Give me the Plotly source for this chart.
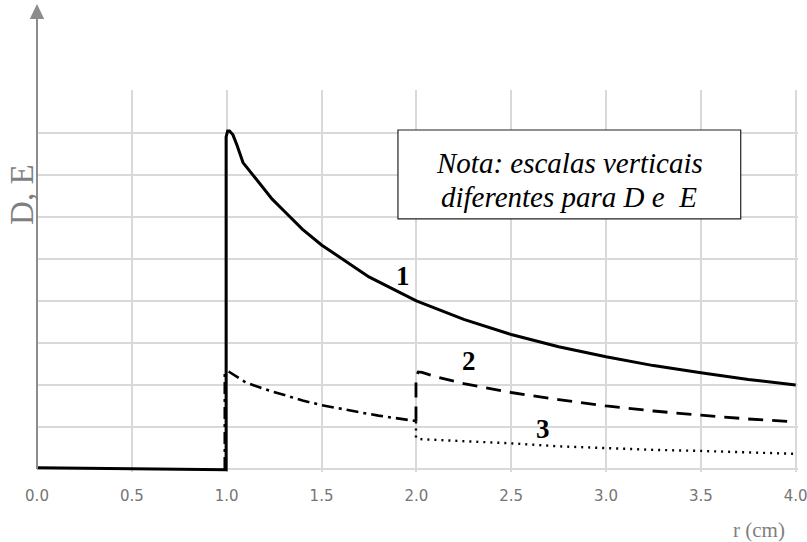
import plotly.graph_objects as go

# ---------------- data ----------------
x_ticks = [0.0, 0.5, 1.0, 1.5, 2.0, 2.5, 3.0, 3.5, 4.0]
x_tick_labels = ["0.0", "0.5", "1.0", "1.5", "2.0", "2.5", "3.0", "3.5", "4.0"]
y_grid = [0, 1, 2, 3, 4, 5, 6, 7, 8, 9]

# curve 1 (solid)
r1 = [0.0, 0.997, 0.997, 1.005, 1.015, 1.033, 1.054, 1.07, 1.086, 1.15, 1.24, 1.3,
      1.4, 1.5, 1.75, 2.0, 2.25, 2.5, 2.75, 3.0, 3.25, 3.5, 3.75, 4.0]
v1 = [0.03, -0.02, 7.9, 8.04, 8.04, 7.95, 7.71, 7.48, 7.29, 6.93, 6.42, 6.15,
      5.7, 5.33, 4.57, 4.0, 3.56, 3.2, 2.91, 2.67, 2.46, 2.29, 2.13, 2.0]

# curve 2, first part (dash-dot, 1 < r < 2)
r2a = [0.99, 0.99, 1.01, 1.05, 1.1, 1.2, 1.3, 1.4, 1.5, 1.6, 1.7, 1.8, 1.9, 2.0]
v2a = [0.0, 2.28, 2.32, 2.2, 2.06, 1.9, 1.76, 1.63, 1.52, 1.43, 1.35, 1.27, 1.2, 1.14]

# curve 2, second part (dashed, r > 2)
r2b = [1.998, 1.998, 2.01, 2.03, 2.1, 2.25, 2.5, 2.75, 3.0, 3.25, 3.5, 3.75, 4.0]
v2b = [1.13, 2.2, 2.31, 2.3, 2.2, 2.03, 1.82, 1.65, 1.5, 1.38, 1.28, 1.19, 1.12]

# curve 3 (dotted, r > 2)
r3 = [1.998, 1.998, 2.02, 2.25, 2.5, 2.75, 3.0, 3.25, 3.5, 3.75, 4.0]
v3 = [1.13, 0.74, 0.71, 0.67, 0.61, 0.54, 0.49, 0.455, 0.43, 0.4, 0.36]

curve_labels = ["1", "2", "3"]
label_pos_r = [1.93, 2.28, 2.665]
label_pos_v = [4.6, 2.56, 0.95]

note_lines = ["Nota: escalas verticais", "diferentes para D e  E"]

# ---------------- figure ----------------
fig = go.Figure()
fig.add_trace(go.Scatter(x=r2a, y=v2a, mode="lines",
                         line=dict(color="black", width=2.6, dash="12px,5px,3px,5px")))
fig.add_trace(go.Scatter(x=r2b, y=v2b, mode="lines",
                         line=dict(color="black", width=2.8, dash="15px,9px")))
fig.add_trace(go.Scatter(x=r3, y=v3, mode="lines",
                         line=dict(color="black", width=2.4, dash="2px,5px")))
fig.add_trace(go.Scatter(x=r1, y=v1, mode="lines",
                         line=dict(color="black", width=3)))

serif = "Liberation Serif, Times New Roman, serif"

for t, xr, yv in zip(curve_labels, label_pos_r, label_pos_v):
    fig.add_annotation(x=xr, y=yv, xref="x", yref="y", text="<b>%s</b>" % t,
                       showarrow=False, font=dict(family=serif, size=27, color="black"))

# note box
fig.add_shape(type="rect", xref="x", yref="y", x0=1.903, x1=3.71, y0=5.95, y1=8.065,
              line=dict(color="#222222", width=1.2), fillcolor="white", layer="above")
fig.add_annotation(x=2.806, y=7.27, xref="x", yref="y", text="<i>%s</i>" % note_lines[0],
                   showarrow=False, font=dict(family=serif, size=29, color="black"))
fig.add_annotation(x=2.806, y=6.48, xref="x", yref="y", text="<i>%s</i>" % note_lines[1],
                   showarrow=False, font=dict(family=serif, size=29, color="black"))

# y axis line with arrow (extends above the plot)
axis_gray = "#8c8c8c"
fig.add_shape(type="line", xref="paper", yref="paper", x0=0, x1=0, y0=0.0078, y1=1.19,
              line=dict(color=axis_gray, width=2))
fig.add_shape(type="path", xref="paper", yref="paper",
              path="M -0.0095 1.1859 L 0.0095 1.1859 L 0 1.2251 Z",
              fillcolor=axis_gray, line=dict(color=axis_gray, width=0))

# axis titles
fig.add_annotation(x=-0.0198, y=0.7277, xref="paper", yref="paper", text="D, E",
                   textangle=-90, showarrow=False, xanchor="center", yanchor="middle",
                   font=dict(family=serif, size=33, color="#7f7f7f"))
fig.add_annotation(x=0.9486, y=-0.1518, xref="paper", yref="paper", text="r (cm)",
                   showarrow=False, xanchor="center", yanchor="middle",
                   font=dict(family=serif, size=21, color="#7f7f7f"))

fig.update_layout(
    width=807, height=542, autosize=False,
    margin=dict(l=37, r=9, t=90, b=70),
    paper_bgcolor="white", plot_bgcolor="white",
    showlegend=False,
    xaxis=dict(range=[0, 4.012], tickvals=x_ticks, ticktext=x_tick_labels,
               showgrid=True, gridcolor="#d9d9d9", gridwidth=1.5,
               zeroline=False, showline=False, ticks="", automargin=False,
               ticklabelstandoff=13, ticklabeloverflow="allow",
               tickfont=dict(family="DejaVu Sans, sans-serif", size=15, color="#757575")),
    yaxis=dict(range=[-0.0714, 9.0167], tickvals=y_grid, showticklabels=False,
               showgrid=True, gridcolor="#d9d9d9", gridwidth=1.5,
               zeroline=False, showline=False, ticks="", automargin=False),
)

fig.write_html("out.html", config={"displayModeBar": False},
               post_script="document.body.style.margin='0';")
